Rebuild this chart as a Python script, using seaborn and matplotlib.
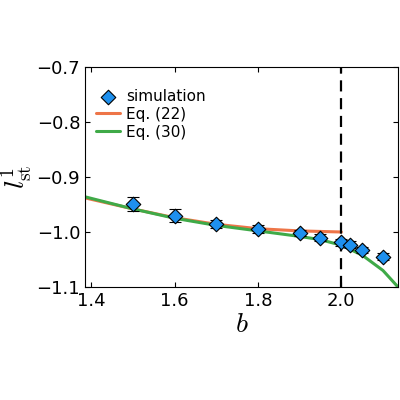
import matplotlib
matplotlib.use("Agg")
import matplotlib.pyplot as plt
import seaborn as sns
import pandas as pd

sim_b = [1.5, 1.6, 1.7, 1.8, 1.9, 1.95, 2.0, 2.02, 2.05, 2.1]
sim_l = [-0.949, -0.970, -0.985, -0.995, -1.002, -1.010, -1.019, -1.023, -1.033, -1.045]
sim_err = [0.013, 0.012, 0.007, 0.007, 0.006, 0.006, 0.006, 0.006, 0.006, 0.006]
eq22_b = [1.385, 1.5, 1.6, 1.7, 1.8, 1.9, 2.0]
eq22_l = [-0.938, -0.958, -0.974, -0.986, -0.994, -0.998, -1.000]
eq30_b = [1.385, 1.5, 1.6, 1.7, 1.8, 1.9, 1.95, 2.0, 2.05, 2.1, 2.136]
eq30_l = [-0.936, -0.958, -0.975, -0.988, -0.998, -1.008, -1.014, -1.024, -1.042, -1.070, -1.100]

sns.set_style("ticks")
plt.rcParams['font.family'] = ['DejaVu Sans']
plt.rcParams['mathtext.fontset'] = 'cm'
for k in ['text.color', 'axes.labelcolor', 'xtick.color', 'ytick.color', 'axes.edgecolor']:
    plt.rcParams[k] = 'black'
fig = plt.figure(figsize=(4, 4), dpi=100)
ax = fig.add_axes([0.2125, 0.2825, 0.7825, 0.55])

sns.lineplot(x=eq22_b, y=eq22_l, ax=ax, color='#ee7548', lw=2.2, label='Eq. (22)')
sns.lineplot(x=eq30_b, y=eq30_l, ax=ax, color='#3faa48', lw=2.2, label='Eq. (30)')
ax.errorbar(sim_b, sim_l, yerr=sim_err, fmt='none', ecolor='black', elinewidth=0.8, capsize=4, capthick=0.8, zorder=4)
sns.scatterplot(x=sim_b, y=sim_l, ax=ax, marker='D', s=55, color='#1e90ee', edgecolor='black', linewidth=0.8, zorder=5, label='simulation')
ax.axvline(2.0, color='black', ls=(0, (5, 3)), lw=1.6)

ax.set_xlim(1.385, 2.136)
ax.set_ylim(-1.1, -0.7)
ax.set_xticks([1.4, 1.6, 1.8, 2.0])
ax.set_yticks([-1.1, -1.0, -0.9, -0.8, -0.7])
ax.tick_params(direction='in', top=True, right=True, labelsize=13)
ax.set_xlabel(r'$b$', fontsize=20, labelpad=0)
ax.set_ylabel(r'$l^1_{\rm st}$', fontsize=20, labelpad=2)
h, l = ax.get_legend_handles_labels()
order = [l.index('simulation'), l.index('Eq. (22)'), l.index('Eq. (30)')]
ax.legend([h[i] for i in order], [l[i] for i in order], loc='upper left', frameon=False, fontsize=11,
          handlelength=1.6, handletextpad=0.4, labelspacing=0.2, borderaxespad=0.3, bbox_to_anchor=(0, 0.95))
fig.savefig('out.png', dpi=100)
